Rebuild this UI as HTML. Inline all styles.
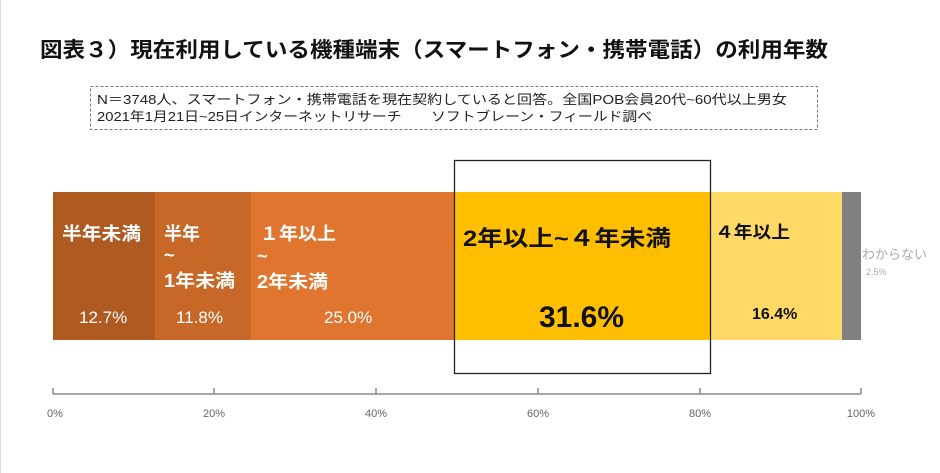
<!DOCTYPE html>
<html><head><meta charset="utf-8"><style>
html,body{margin:0;padding:0;background:#fff;}
svg{display:block;}
text{font-family:"Liberation Sans","Noto Sans CJK JP",sans-serif;}
</style></head><body>
<svg width="940" height="473" viewBox="0 0 940 473" xmlns="http://www.w3.org/2000/svg">
<rect x="0" y="0" width="940" height="473" fill="#fff"/>
<line x1="0.5" y1="0" x2="0.5" y2="473" stroke="#d9d9d9"/>
<text x="40" y="57" font-size="21" font-weight="bold" fill="#111" textLength="788" lengthAdjust="spacingAndGlyphs">図表３）現在利用している機種端末（スマートフォン・携帯電話）の利用年数</text>
<rect x="90.5" y="86.5" width="727" height="43" fill="none" stroke="#777" stroke-dasharray="3,2"/>
<text x="97" y="104" font-size="13" fill="#222" textLength="690" lengthAdjust="spacingAndGlyphs">N＝3748人、スマートフォン・携帯電話を現在契約していると回答。全国POB会員20代~60代以上男女</text>
<text x="97" y="121" font-size="13" fill="#222" textLength="555" lengthAdjust="spacingAndGlyphs">2021年1月21日~25日インターネットリサーチ　　ソフトブレーン・フィールド調べ</text>
<rect x="53" y="192" width="102" height="148" fill="#ae5a21"/>
<rect x="155" y="192" width="96" height="148" fill="#c76828"/>
<rect x="251" y="192" width="203" height="148" fill="#e0752f"/>
<rect x="454" y="192" width="256" height="148" fill="#ffbf00"/>
<rect x="710" y="192" width="132" height="148" fill="#ffd966"/>
<rect x="842" y="192" width="19" height="148" fill="#808080"/>
<rect x="454.5" y="160.5" width="256" height="213" fill="none" stroke="#222" stroke-width="1.3"/>
<g fill="#fff" font-weight="bold" font-size="18">
<text x="62" y="240" textLength="79" lengthAdjust="spacingAndGlyphs">半年未満</text>
<text x="164" y="240">半年</text>
<text x="164" y="261">~</text>
<text x="164" y="287" textLength="71" lengthAdjust="spacingAndGlyphs">1年未満</text>
<text x="260" y="240" textLength="76" lengthAdjust="spacingAndGlyphs">１年以上</text>
<text x="257" y="262">~</text>
<text x="257" y="288" textLength="71" lengthAdjust="spacingAndGlyphs">2年未満</text>
<text x="79" y="323" font-size="17" font-weight="normal">12.7%</text>
<text x="176" y="323" font-size="17" font-weight="normal">11.8%</text>
<text x="324" y="323" font-size="17" font-weight="normal">25.0%</text>
</g>
<text x="463" y="246" font-size="22" font-weight="bold" fill="#111" textLength="208" lengthAdjust="spacingAndGlyphs">2年以上~４年未満</text>
<text x="539" y="327" font-size="30" font-weight="bold" fill="#111" textLength="85" lengthAdjust="spacingAndGlyphs">31.6%</text>
<text x="715" y="238" font-size="17" font-weight="bold" fill="#111" textLength="75" lengthAdjust="spacingAndGlyphs">４年以上</text>
<text x="752" y="319" font-size="16" font-weight="bold" fill="#111">16.4%</text>
<text x="862" y="259" font-size="13" fill="#aaa">わからない</text>
<text x="866" y="275" font-size="9" fill="#aaa">2.5%</text>
<g stroke="#888" stroke-width="1.5">
<line x1="53" y1="394" x2="861" y2="394"/>
<line x1="53" y1="388" x2="53" y2="394"/>
<line x1="214" y1="388" x2="214" y2="394"/>
<line x1="376" y1="388" x2="376" y2="394"/>
<line x1="538" y1="388" x2="538" y2="394"/>
<line x1="700" y1="388" x2="700" y2="394"/>
<line x1="861" y1="388" x2="861" y2="394"/>
</g>
<g font-size="11" fill="#666" text-anchor="middle">
<text x="55" y="417">0%</text>
<text x="214" y="417">20%</text>
<text x="376" y="417">40%</text>
<text x="538" y="417">60%</text>
<text x="700" y="417">80%</text>
<text x="861" y="417">100%</text>
</g>
</svg>
</body></html>
